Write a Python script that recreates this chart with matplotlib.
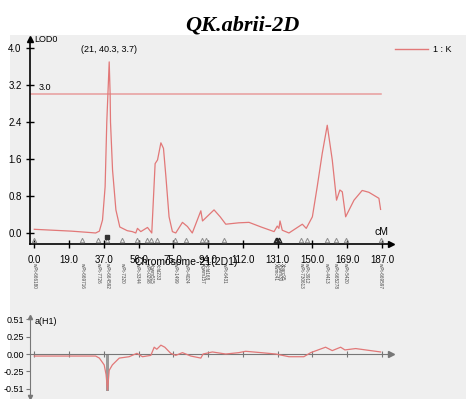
import numpy as np
import matplotlib

matplotlib.use("Agg")
import matplotlib.pyplot as plt
from matplotlib.lines import Line2D
from matplotlib.patches import Rectangle
from matplotlib.transforms import blended_transform_factory

plt.rcParams["font.family"] = ["Liberation Sans Narrow", "Liberation Sans", "DejaVu Sans"]

# LOD profile along chromosome 2D
lod_cm = [0, 10, 20, 30, 33, 35, 36.7, 38.1, 39.0, 39.6, 40.3, 40.8, 41.0, 42.1, 43.9,
          46.0, 50, 52.7, 54.6, 55.5, 57.3, 60.9, 63.2, 65.0, 66.3, 68.1, 69.5, 70.8,
          72.5, 74.3, 76.1, 79.7, 82.4, 85.0, 89.6, 90.5, 96.7, 100, 103, 110, 115.5,
          122, 129, 130.7, 131.6, 132.2, 133.4, 137, 144.2, 146.3, 149.6, 152.2, 154.9,
          157.6, 160.3, 162.6, 164.4, 165.7, 167.5, 172, 176.4, 180, 185.4, 186.3]
lod = [0.08, 0.06, 0.04, 0.01, 0.0, 0.04, 0.28, 1.0, 2.4, 3.0, 3.7, 3.0, 2.4, 1.36, 0.5,
       0.13, 0.05, 0.03, 0.0, 0.1, 0.03, 0.12, 0.0, 1.5, 1.58, 1.95, 1.83, 1.22,
       0.35, 0.03, 0.0, 0.23, 0.14, 0.0, 0.48, 0.26, 0.5, 0.35, 0.19, 0.22, 0.23,
       0.13, 0.03, 0.15, 0.1, 0.26, 0.06, 0.0, 0.19, 0.1, 0.35, 1.0, 1.72,
       2.33, 1.58, 0.71, 0.93, 0.89, 0.35, 0.71, 0.92, 0.88, 0.75, 0.51]

# additive effect a(H1)
add_cm = [0, 33, 35, 37.6, 38.6, 39.4, 40.3, 42, 45.7, 51, 55.2, 58.2, 62.7, 64.5, 65.9,
          68.1, 70.2, 73.4, 76.1, 79.7, 84.2, 89.6, 90.8, 95.8, 103, 110, 113.7, 122,
          129.9, 137, 145, 148.7, 156.7, 160.3, 164.8, 167.1, 172.9, 186.3]
add = [-0.03, -0.03, -0.06, -0.16, -0.3, -0.53, -0.24, -0.16, -0.06, -0.04, 0.01, -0.04,
       -0.02, 0.1, 0.07, 0.13, 0.1, 0.01, -0.02, 0.02, -0.03, -0.06, 0.0, 0.03, 0.0, 0.02,
       0.04, 0.02, 0.0, -0.04, -0.04, 0.02, 0.1, 0.05, 0.1, 0.06, 0.08, 0.03]
peak_effect = -0.55

# peak: (marker interval, position, LOD)
peak_interval, peak_cm, peak_lod = 21, 40.3, 3.7
threshold = 3.0

marker_cm = [0.0, 25.8, 34.4, 39.2, 47.3, 55.3, 60.7, 62.9, 66.1, 75.8, 81.7, 90.3, 92.4,
             102.1, 129.8, 130.6, 131.4, 143.5, 146.7, 157.4, 162.3, 167.6, 186.5]
marker_names = ["wPt-666180", "wPt-669716", "wPt-7726", "wPt-664592", "wPt-7320",
                "wPt-3344", "wPt-0298", "Xgwm515", "Xcfd233", "wPt-1499", "wPt-4024",
                "Xgwm157", "Xcfd168", "wPt-6431", "Xwmc41", "Xgwm30", "Xbarc95",
                "wPt-730613", "wPt-3912", "wPt-4413", "wPt-665278", "wPt-5420",
                "wPt-669597"]

tick_labels = ["0.0", "19.0", "37.0", "56.0", "75.0", "94.0", "112.0", "131.0",
               "150.0", "169.0", "187.0"]
chrom_len = 187.0

W, H = 466, 399
fig = plt.figure(figsize=(W / 100, H / 100), dpi=100, facecolor="white")
fig.add_artist(Rectangle((10 / W, 0), 456 / W, 364 / H, transform=fig.transFigure,
                         facecolor="#efefef", edgecolor="none", zorder=0))

red = "#e27878"
xlim = (-2.31, 191.9)
ticks = np.linspace(0, chrom_len, len(tick_labels))

# ---- LOD panel ----
ax = fig.add_axes([30 / W, 155 / H, 361 / W, 205 / H])
ax.patch.set_visible(False)
ax.set_xlim(*xlim)
ax.set_ylim(-0.238, 4.195)
for s in ("top", "right"):
    ax.spines[s].set_visible(False)
ax.spines["left"].set_linewidth(1.2)
ax.spines["bottom"].set_linewidth(1.2)
ax.plot(1, 0, ">", color="k", ms=5, transform=ax.transAxes, clip_on=False)
ax.plot(0, 1, "^", color="k", ms=4, transform=ax.transAxes, clip_on=False)

ax.set_yticks([0.0, 0.8, 1.6, 2.4, 3.2, 4.0])
ax.set_yticklabels(["0.0", "0.8", "1.6", "2.4", "3.2", "4.0"])
ax.set_xticks(ticks)
ax.set_xticklabels(tick_labels)
ax.tick_params(direction="inout", length=6, width=1, labelsize=7, pad=3)
ax.tick_params(axis="x", pad=5)

ax.plot(lod_cm, lod, color=red, lw=0.9, zorder=3)
ax.plot([xlim[0], 186.5], [threshold, threshold], color="#e89c9c", lw=1.1, zorder=2)
ax.text(2.5, threshold + 0.05, f"{threshold:.1f}", fontsize=6.5, va="bottom")
ax.annotate(f"({peak_interval}, {peak_cm}, {peak_lod})", (peak_cm, peak_lod),
            xytext=(0, 9), textcoords="offset points", ha="center", va="center",
            fontsize=6.5)

ax.text(0.012, 1.0, "LOD0", transform=ax.transAxes, fontsize=6.5, va="center")
ax.text(0.975, 0.045, "cM", transform=ax.transAxes, fontsize=7.5, ha="center")

# markers on the map axis; the cluster near 131 cM is drawn darker
mk = np.array(marker_cm)
dense = np.r_[False, np.diff(mk) < 1.5] | np.r_[np.diff(mk) < 1.5, False]
ax.plot(mk[~dense], [-0.15] * (~dense).sum(), "^", ms=3.2, mfc="none", mec="#8c8c8c",
        mew=0.7, clip_on=False, zorder=4)
ax.plot(mk[dense], [-0.15] * dense.sum(), "^", ms=3.4, mfc="none", mec="#222222",
        mew=0.9, clip_on=False, zorder=4)
near = mk[int(np.argmin(np.abs(mk - peak_cm)))]
ax.plot([near], [-0.08], "s", ms=2.8, color="#333333", clip_on=False, zorder=5)

# marker names, nudged apart where markers sit too close together
label_x = mk.copy()
for i in range(1, len(label_x)):
    label_x[i] = max(label_x[i], label_x[i - 1] + 1.9)
trans = blended_transform_factory(ax.transData, ax.transAxes)
for pos, name in zip(label_x, marker_names):
    ax.text(pos, -0.093, name, transform=trans, rotation=270, fontsize=3.3,
            ha="center", va="top", color="#444444")
fig.text(186 / W, 1 - 262 / H, "Chromosome-21(2D1)", fontsize=7.5, ha="center",
         va="center", zorder=6)

# legend
fig.add_artist(Line2D([395 / W, 428 / W], [1 - 49 / H, 1 - 49 / H], color=red, lw=1))
fig.text(433 / W, 1 - 49 / H, "1 : K", fontsize=6.5, va="center")

# ---- additive effect panel ----
ax2 = fig.add_axes([30 / W, 2 / H, 361 / W, 80 / H])
ax2.patch.set_visible(False)
ax2.set_xlim(*xlim)
ax2.set_ylim(-0.632, 0.544)
for s in ("top", "right"):
    ax2.spines[s].set_visible(False)
ax2.spines["bottom"].set_position(("data", 0))
ax2.spines["bottom"].set_color("#777777")
ax2.spines["left"].set_color("#777777")
ax2.spines["left"].set_linewidth(0.8)
ax2.plot(1, 0, ">", color="#777777", ms=4,
         transform=blended_transform_factory(ax2.transAxes, ax2.transData), clip_on=False)
ax2.plot(0, 1, "^", color="#777777", ms=3, transform=ax2.transAxes, clip_on=False)
ax2.plot(0, 0, "v", color="#777777", ms=3, transform=ax2.transAxes, clip_on=False)
ax2.set_xticks(ticks)
ax2.set_xticklabels([])
ax2.tick_params(axis="x", direction="inout", length=5, color="#777777")
ax2.set_yticks([0.51, 0.25, 0.0, -0.25, -0.51])
ax2.set_yticklabels(["0.51", "0.25", "0.00", "-0.25", "-0.51"])
ax2.tick_params(axis="y", direction="out", length=3, color="#777777", labelsize=6.5, pad=1)

ax2.bar([39.4], [peak_effect], width=1.3, color="#9a9a9a", zorder=2)
ax2.plot(add_cm, add, color=red, lw=0.9, zorder=3)
ax2.text(0.012, 1.0, "a(H1)", transform=ax2.transAxes, fontsize=6.5, va="top")

fig.text(242 / W, 1 - 30 / H, "QK.abrii-2D", fontsize=16, fontweight="bold",
         fontstyle="italic", family=["Liberation Serif", "DejaVu Serif"],
         ha="center", va="baseline")

fig.savefig("out.png", dpi=100, facecolor=fig.get_facecolor())
